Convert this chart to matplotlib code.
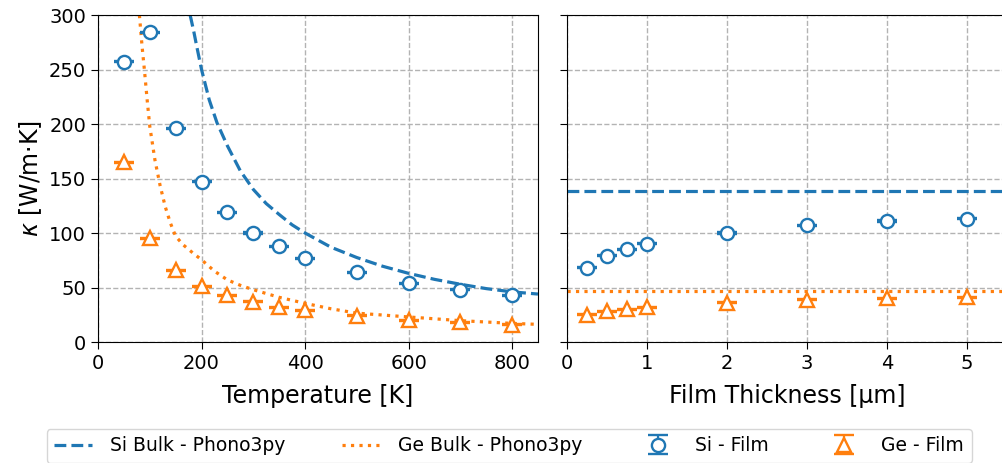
import matplotlib
matplotlib.use("Agg")
import matplotlib.pyplot as plt

# Bulk thermal conductivity from Phono3py vs temperature
si_bulk_T = [178, 185, 190, 200, 215, 230, 250, 275, 300, 325, 350, 375, 400,
             450, 500, 550, 600, 650, 700, 750, 800, 850]
si_bulk_k = [300, 285, 273, 250, 222, 201, 180, 157, 140, 127, 117, 107.5, 100,
             87, 77.5, 69.5, 63, 57.5, 53, 49, 46, 44]

ge_bulk_T = [80, 85, 90, 95, 100, 110, 120, 130, 140, 150, 165, 185, 200, 225,
             250, 275, 300, 350, 400, 450, 500, 600, 700, 800, 850]
ge_bulk_k = [300, 272, 248, 222, 198, 167, 143.5, 124, 109, 97, 89, 81, 75.5, 65,
             57, 52, 48, 41, 35.5, 30.5, 26.5, 23, 19.6, 17.1, 16.2]

# Film thermal conductivity vs temperature
film_T = [50, 100, 150, 200, 250, 300, 350, 400, 500, 600, 700, 800]
si_film_k = [257, 284, 196, 147, 119, 100, 88, 77, 64, 54, 48, 43]
ge_film_k = [165, 95, 66, 51, 43, 37, 32, 29, 24, 20, 18, 16]
si_film_err_T = [0.5] * len(film_T)
ge_film_err_T = [0.5] * len(film_T)

# Film thermal conductivity vs thickness (room temperature)
thickness = [0.25, 0.5, 0.75, 1, 2, 3, 4, 5]
si_thick_k = [68, 79, 85, 90, 100, 107, 111, 113]
ge_thick_k = [25, 28, 30, 32, 36, 39, 40, 41]
si_err_d = [0.5] * len(thickness)
ge_err_d = [0.5] * len(thickness)
thick_range = [0, 5.5]
si_bulk_300 = [138.5, 138.5]
ge_bulk_300 = [47, 47]

blue = "#1f77b4"
orange = "#ff7f0e"

fig = plt.figure(figsize=(10.02, 4.63), dpi=100)
ax1 = fig.add_axes([0.0978, 0.2613, 0.4391, 0.7063])
ax2 = fig.add_axes([0.5659, 0.2613, 0.4391, 0.7063], sharey=ax1)

line_kw = dict(lw=2.3)
err_kw = dict(capsize=7, capthick=1.6, elinewidth=1.6, ms=9.5, mew=1.7,
              mfc="white", ls="none", zorder=3)

ax1.plot(si_bulk_T, si_bulk_k, "--", color=blue, **line_kw)
ax1.plot(ge_bulk_T, ge_bulk_k, ":", color=orange, **line_kw)
ax1.errorbar(film_T, si_film_k, yerr=si_film_err_T, marker="o", color=blue, **err_kw)
ax1.errorbar(film_T, ge_film_k, yerr=ge_film_err_T, marker="^", color=orange, **err_kw)

l1, = ax2.plot(thick_range, si_bulk_300, "--", color=blue, **line_kw)
l2, = ax2.plot(thick_range, ge_bulk_300, ":", color=orange, **line_kw)
e1 = ax2.errorbar(thickness, si_thick_k, yerr=si_err_d, marker="o", color=blue, **err_kw)
e2 = ax2.errorbar(thickness, ge_thick_k, yerr=ge_err_d, marker="^", color=orange, **err_kw)

ax1.set_xlim(0, 850)
ax1.set_ylim(0, 300)
ax2.set_xlim(0, 5.5)

ax1.set_xticks([0, 200, 400, 600, 800])
ax1.set_yticks([0, 50, 100, 150, 200, 250, 300])
ax2.set_xticks([0, 1, 2, 3, 4, 5])

for ax in (ax1, ax2):
    ax.grid(True, ls="--", color="0.7", lw=1)
    ax.set_axisbelow(True)
    ax.tick_params(labelsize=14, length=5)
plt.setp(ax2.get_yticklabels(), visible=False)

ax1.set_xlabel("Temperature [K]", fontsize=17, labelpad=8)
ax2.set_xlabel("Film Thickness [\u03bcm]", fontsize=17, labelpad=8)
ax1.set_ylabel(r"$\kappa$ [W/m$\cdot$K]", fontsize=17)

fig.legend([l1, l2, e1, e2],
           ["Si Bulk - Phono3py", "Ge Bulk - Phono3py", "Si - Film", "Ge - Film"],
           loc="lower center", bbox_to_anchor=(0.508, -0.02), ncol=4,
           fontsize=13.5, columnspacing=3.0, handlelength=2.0, handletextpad=1.0)

fig.savefig("out.png", dpi=100)
